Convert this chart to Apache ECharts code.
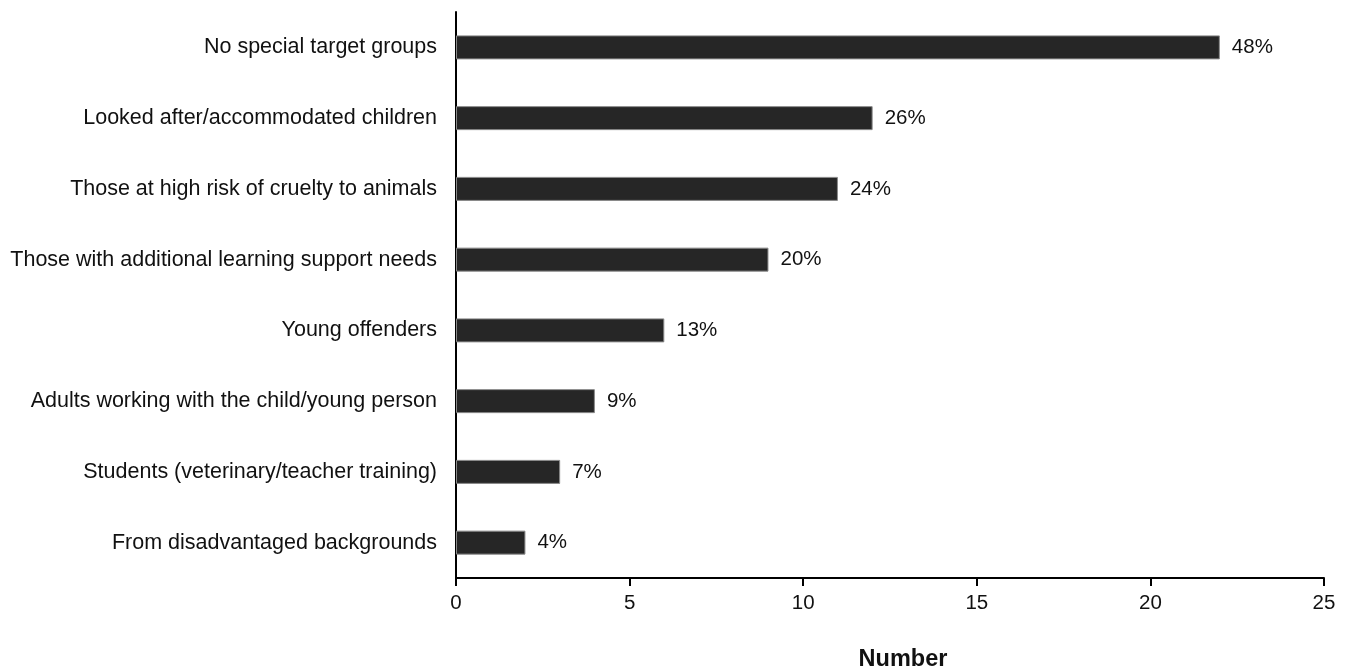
<!DOCTYPE html>
<html>
<head>
<meta charset="utf-8">
<style>
  html, body { margin: 0; padding: 0; background: #fff; }
  #chart { width: 1352px; height: 670px; }
</style>
<script src="https://cdn.jsdelivr.net/npm/echarts@6/dist/echarts.min.js"></script>
</head>
<body>
<div id="chart"></div>
<script>
// Target groups, listed top to bottom
const categories = [
  'No special target groups',
  'Looked after/accommodated children',
  'Those at high risk of cruelty to animals',
  'Those with additional learning support needs',
  'Young offenders',
  'Adults working with the child/young person',
  'Students (veterinary/teacher training)',
  'From disadvantaged backgrounds'
];
// Number of responses per group
const counts = [22, 12, 11, 9, 6, 4, 3, 2];
// Share of responses shown beside each bar
const shares = ['48%', '26%', '24%', '20%', '13%', '9%', '7%', '4%'];
const xTicks = [0, 5, 10, 15, 20, 25];

const font = 'Liberation Sans, Arial, sans-serif';
const chart = echarts.init(document.getElementById('chart'));

// category axis runs bottom-up, so reverse to keep the first item on top
const cats = categories.slice().reverse();
const vals = counts.slice().reverse();
const labs = shares.slice().reverse();

chart.setOption({
  animation: false,
  grid: {
    left: 456, right: 28, top: 12, bottom: 92,
    containLabel: false,
    outerBoundsMode: 'none'
  },
  xAxis: {
    type: 'value',
    min: xTicks[0],
    max: xTicks[xTicks.length - 1],
    interval: 5,
    name: 'Number',
    nameLocation: 'middle',
    nameGap: 70,
    nameTextStyle: {
      fontFamily: font, fontSize: 23.5, fontWeight: 'bold', color: '#111',
      padding: [0, 0, 0, 26]
    },
    axisLine: { show: true, lineStyle: { color: '#000', width: 2 } },
    axisTick: { show: true, length: 8, lineStyle: { color: '#000', width: 2 } },
    axisLabel: { fontFamily: font, fontSize: 20.5, color: '#111', margin: 15 },
    splitLine: { show: false }
  },
  yAxis: {
    type: 'category',
    data: cats,
    axisLine: { show: true, lineStyle: { color: '#000', width: 2 } },
    axisTick: { show: false },
    axisLabel: { fontFamily: font, fontSize: 21.5, color: '#111', margin: 19 }
  },
  series: [{
    type: 'bar',
    data: vals,
    barWidth: 24,
    itemStyle: { color: '#262626', borderColor: '#8a8a8a', borderWidth: 1 },
    label: {
      show: true,
      position: 'right',
      distance: 12,
      fontFamily: font,
      fontSize: 20.5,
      color: '#111',
      formatter: p => labs[p.dataIndex]
    }
  }]
});
</script>
</body>
</html>
